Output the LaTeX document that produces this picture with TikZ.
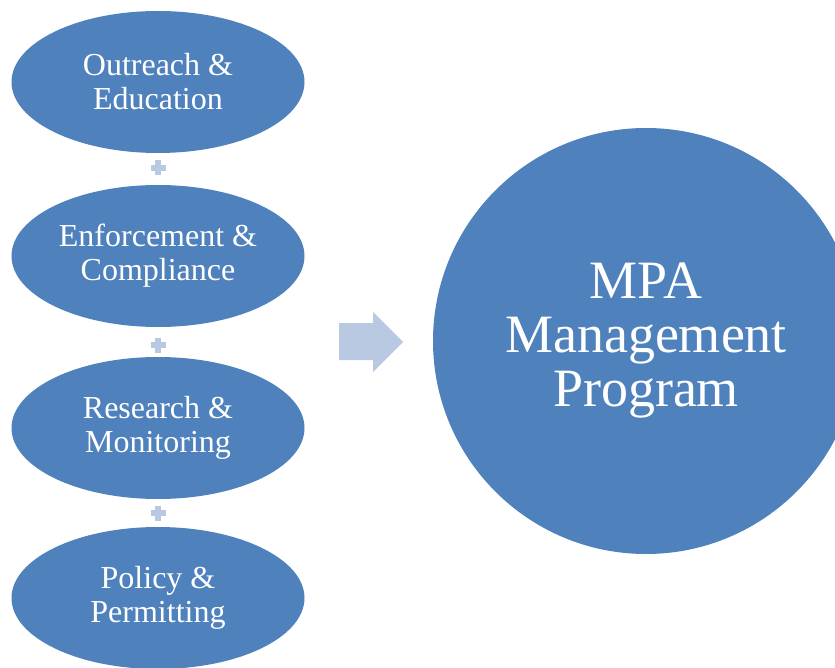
\documentclass[tikz,border=0pt]{standalone}
\usepackage{fontspec}
\setmainfont{Liberation Serif}
\usetikzlibrary{shapes.geometric}
\definecolor{mpablue}{HTML}{4F81BD}
\definecolor{mpalight}{HTML}{B9C9E2}

\begin{document}
\begin{tikzpicture}[x=1pt, y=-1pt, every node/.style={text=white, align=center, inner sep=0pt},
        part/.style={ellipse, fill=mpablue, minimum width=293pt, minimum height=142pt, font=\fontsize{32}{34}\selectfont}]
        \useasboundingbox (0,0) rectangle (835,668);
        \clip (0,0) rectangle (835,668);
        \node[part] (outreach) at (158,82) {Outreach \&\\Education};
        \node[part] (enforce) at (158,256) {Enforcement \&\\Compliance};
        \node[part] (research) at (158,428) {Research \&\\Monitoring};
        \node[part] (policy) at (158,598) {Policy \&\\Permitting};
        \node[circle, fill=mpablue, minimum size=426pt, font=\fontsize{54}{54}\selectfont] (mpa) at (646,341) {MPA\\Management\\Program};
        % plus signs between the parts
        \foreach \y in {168,345,513} {
            \fill[mpalight] (150.5,\y-3) rectangle (165.5,\y+3);
            \fill[mpalight] (155,\y-7.5) rectangle (161,\y+7.5);
        }
        \fill[mpalight] (339,323) -- (373,323) -- (373,312) -- (403,342) -- (373,372) -- (373,360) -- (339,360) -- cycle;
    \end{tikzpicture}
\end{document}
